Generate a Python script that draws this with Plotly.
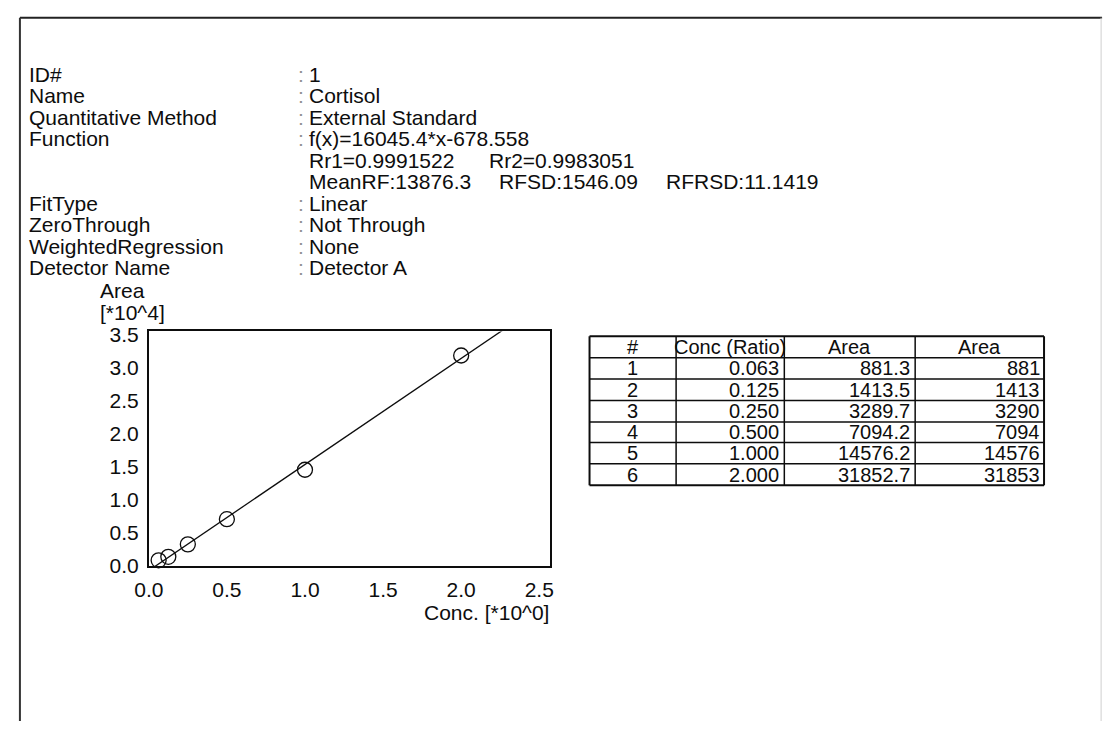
import numpy as np
import plotly.graph_objects as go

W, H = 1110, 732

# calibration standards
conc = [0.063, 0.125, 0.250, 0.500, 1.000, 2.000]
area = [881.3, 1413.5, 3289.7, 7094.2, 14576.2, 31852.7]
area_int = [881, 1413, 3290, 7094, 14576, 31853]

# regression result
slope = 16045.4
intercept = -678.558
rr1, rr2 = "0.9991522", "0.9983051"
mean_rf, rf_sd, rf_rsd = "13876.3", "1546.09", "11.1419"

header_labels = ["ID#", "Name", "Quantitative Method", "Function", "", "",
                 "FitType", "ZeroThrough", "WeightedRegression", "Detector Name"]
header_values = ["1", "Cortisol", "External Standard",
                 f"f(x)={slope}*x{intercept}", None, None,
                 "Linear", "Not Through", "None", "Detector A"]

x_ticks = [0.0, 0.5, 1.0, 1.5, 2.0, 2.5]
y_ticks = [0.0, 0.5, 1.0, 1.5, 2.0, 2.5, 3.0, 3.5]
y_scale = 1e4

table_header = ["#", "Conc (Ratio)", "Area", "Area"]

FONT = "Liberation Sans, Arial, sans-serif"
INK = "#0d0d0d"
HEAD_SIZE = 21
TABLE_SIZE = 20


def px(x):
    return x / W


def py(y):
    return 1 - y / H


fig = go.Figure()

# fitted line
fx = np.array([0.0, 2.6])
fig.add_trace(go.Scatter(
    x=fx, y=(slope * fx + intercept) / y_scale, mode="lines",
    line=dict(color=INK, width=1.3), hoverinfo="skip", showlegend=False))

# standard points
fig.add_trace(go.Scatter(
    x=conc, y=[a / y_scale for a in area], mode="markers",
    marker=dict(symbol="circle-open", size=15, color=INK, line=dict(width=1.3)),
    cliponaxis=False, showlegend=False))

axis_common = dict(showline=True, mirror=True, linecolor=INK, linewidth=1.6,
                   showgrid=False, zeroline=False, ticks="",
                   tickfont=dict(family=FONT, size=HEAD_SIZE, color=INK))

fig.update_layout(
    width=W, height=H, margin=dict(l=0, r=0, t=0, b=0),
    paper_bgcolor="white", plot_bgcolor="white", showlegend=False,
    xaxis=dict(domain=[px(136), px(544)], range=[0, 2.57],
               tickvals=x_ticks, ticktext=[f"{v:.1f}" for v in x_ticks],
               ticklabelstandoff=4, **axis_common),
    yaxis=dict(domain=[py(573), py(332)], range=[0, 3.55],
               tickvals=y_ticks, ticktext=[f"{v:.1f}" for v in y_ticks],
               ticklabelstandoff=4, **axis_common),
)

ann = []


def text(x, y, s, anchor="left", color=INK, size=HEAD_SIZE):
    ann.append(dict(x=px(x), y=py(y), xref="paper", yref="paper", text=s,
                    showarrow=False, xanchor=anchor, yanchor="middle",
                    font=dict(family=FONT, size=size, color=color)))


# header block
row_y = [68 + 22.1 * i for i in range(len(header_labels))]
for lab, val, yy in zip(header_labels, header_values, row_y):
    if lab:
        text(12, yy, lab)
    if val is not None:
        text(286, yy, ":", color="#909090")
        text(297, yy, val)
text(297, row_y[4], f"Rr1={rr1}")
text(480, row_y[4], f"Rr2={rr2}")
text(297, row_y[5], f"MeanRF:{mean_rf}")
text(490, row_y[5], f"RFSD:{rf_sd}")
text(660, row_y[5], f"RFRSD:{rf_rsd}")

# axis titles
text(84, 290, "Area")
text(84, 313, "[*10^4]")
text(545, 621, "Conc. [*10^0]", anchor="right")

# data table
col_x = [584, 672, 782, 915, 1046]
row_edges = [337, 359, 381, 403, 425, 446, 468, 490]
shapes = []
for i, h in enumerate(table_header):
    text((col_x[i] + col_x[i + 1]) / 2, (row_edges[0] + row_edges[1]) / 2, h,
         anchor="center", size=TABLE_SIZE)
for r in range(len(conc)):
    yc = (row_edges[r + 1] + row_edges[r + 2]) / 2
    text((col_x[0] + col_x[1]) / 2, yc, str(r + 1), anchor="center", size=TABLE_SIZE)
    text(col_x[2] - 3, yc, f"{conc[r]:.3f}", anchor="right", size=TABLE_SIZE)
    text(col_x[3] - 3, yc, f"{area[r]:.1f}", anchor="right", size=TABLE_SIZE)
    text(col_x[4] - 2, yc, f"{area_int[r]}", anchor="right", size=TABLE_SIZE)

for i, yy in enumerate(row_edges):
    wdt = 2 if i in (0, len(row_edges) - 1) else 1.5
    shapes.append(dict(type="line", xref="paper", yref="paper",
                       x0=px(col_x[0]), x1=px(col_x[-1]), y0=py(yy), y1=py(yy),
                       line=dict(color=INK, width=wdt)))
for i, xx in enumerate(col_x):
    wdt = 2 if i in (0, len(col_x) - 1) else 1.5
    shapes.append(dict(type="line", xref="paper", yref="paper",
                       x0=px(xx), x1=px(xx), y0=py(row_edges[0]), y1=py(row_edges[-1]),
                       line=dict(color=INK, width=wdt)))

# page frame
shapes.append(dict(type="line", xref="paper", yref="paper", x0=px(5), x1=px(1105),
                   y0=py(10), y1=py(10), line=dict(color="#222", width=2)))
shapes.append(dict(type="line", xref="paper", yref="paper", x0=px(5), x1=px(5),
                   y0=py(10), y1=py(732), line=dict(color="#333", width=2)))
shapes.append(dict(type="line", xref="paper", yref="paper", x0=px(1104), x1=px(1104),
                   y0=py(10), y1=py(732), line=dict(color="#cfcfcf", width=1)))

fig.update_layout(annotations=ann, shapes=shapes)
fig.write_html("out.html")
